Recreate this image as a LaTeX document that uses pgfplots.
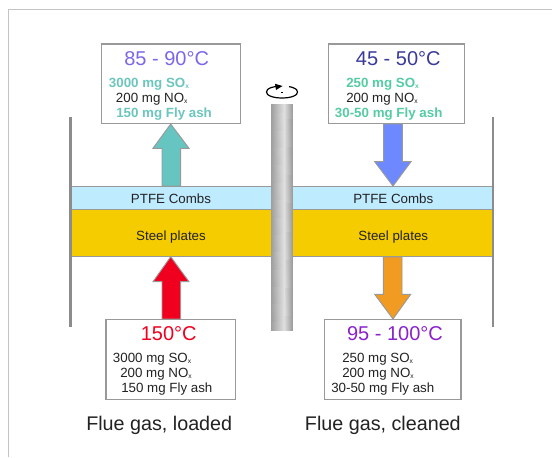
\documentclass[border=0pt]{standalone}
\usepackage{fontspec}
\setmainfont{Liberation Sans}
\usepackage{pgfplots}
\pgfplotsset{compat=1.18}

\definecolor{framegray}{HTML}{C4C4C4}
\definecolor{edgegray}{HTML}{999999}
\definecolor{wallgray}{HTML}{8C8C8C}
\definecolor{ptfe}{HTML}{BFEBFF}
\definecolor{steel}{HTML}{F5CC00}
\definecolor{tealarrow}{HTML}{66C5C0}
\definecolor{bluearrow}{HTML}{6E88FF}
\definecolor{redarrow}{HTML}{F0001E}
\definecolor{orangearrow}{HTML}{F29B22}
\definecolor{tealtext}{HTML}{6CC6BE}
\definecolor{greentext}{HTML}{55CCA2}
\definecolor{violettitle}{HTML}{7B68E8}
\definecolor{navytitle}{HTML}{3A3A9C}
\definecolor{purpletitle}{HTML}{8A22CC}
\definecolor{darktext}{HTML}{222222}

\newcommand{\sub}{\raisebox{-1.2pt}{\fontsize{5}{5}\selectfont x}}
\newcommand{\smalltxt}{\fontsize{10}{12}\selectfont}

\tikzset{
    boxtitle/.style={font=\fontsize{15}{18}\selectfont, anchor=base},
    gasline/.style={font=\smalltxt, anchor=base west, text=darktext, inner sep=0pt},
    gasbold/.style={font=\smalltxt\bfseries, anchor=base west, inner sep=0pt},
    bandlabel/.style={font=\smalltxt, anchor=base, text=darktext},
    caption/.style={font=\fontsize{14.8}{18}\selectfont, anchor=base west, inner sep=0pt, text=darktext},
    boxstyle/.style={draw=edgegray, fill=white, line width=0.8pt},
    arrowstyle/.style={draw=edgegray, line width=0.7pt, line join=miter},
}

\begin{document}
\begin{tikzpicture}
\begin{axis}[
    scale only axis,
    width=414pt,
    height=342.75pt,
    xmin=0, xmax=552,
    ymin=0, ymax=457,
    y dir=reverse,
    hide axis,
    colormap={shaftgray}{rgb255=(158,158,158) rgb255=(224,224,224)},
    point meta min=0, point meta max=1,
]
% page frame, open to the right and bottom
\addplot[fill=white, draw=none] coordinates {(0,0) (552,0) (552,457) (0,457)} --cycle;
\addplot[draw=framegray, line width=1.1pt] coordinates {(8.5,457) (8.5,9.5) (552,9.5)};

% bands
\addplot[fill=ptfe, draw=edgegray, line width=0.8pt] coordinates {(71,186.3) (493,186.3) (493,209.7) (71,209.7)} --cycle;
\addplot[fill=steel, draw=edgegray, line width=0.8pt] coordinates {(71,209.7) (493,209.7) (493,256.7) (71,256.7)} --cycle;

% housing walls
\addplot[draw=wallgray, line width=1.8pt] coordinates {(70.5,116.7) (70.5,326.7)};
\addplot[draw=wallgray, line width=1.8pt] coordinates {(493,116.7) (493,326.7)};

% shaft
\addplot[surf, shader=interp, mesh/cols=3, point meta=explicit] coordinates {
    (271.3,103.7) [0] (284,103.7) [1] (292.3,103.7) [0]
    (271.3,330) [0] (284,330) [1] (292.3,330) [0]
};

% rotation sign
\addplot[draw=black, line width=0.9pt, smooth] coordinates {
    (276,86.5) (271,87.6) (267.5,89.6) (266.5,92) (267.5,94.4) (271,96.4) (276,97.6) (282,98)
    (288,97.6) (293,96.4) (296.5,94.4) (297.5,92) (296.5,89.6) (293,87.6) (289,86.6)
};
\addplot[fill=black, draw=none] coordinates {(275,83.8) (282.5,86) (276,90)} --cycle;
\addplot[fill=black, draw=none] coordinates {(281,91.6) (282.5,91.6) (282.5,93.1) (281,93.1)} --cycle;

% arrows
\addplot[fill=tealarrow, arrowstyle] coordinates {
    (170.7,124) (189,148.3) (180.7,148.3) (180.7,186) (162,186) (162,148.3) (153,148.3)} --cycle;
\addplot[fill=bluearrow, arrowstyle] coordinates {
    (393,186) (411,161.7) (402.3,161.7) (402.3,124) (383.7,124) (383.7,161.7) (374.7,161.7)} --cycle;
\addplot[fill=redarrow, arrowstyle] coordinates {
    (170.7,256.7) (189,281.7) (180.7,281.7) (180.7,319) (162,319) (162,281.7) (153,281.7)} --cycle;
\addplot[fill=orangearrow, arrowstyle] coordinates {
    (393,319) (410.7,294.3) (402,294.3) (402,257) (383.3,257) (383.3,294.3) (374.7,294.3)} --cycle;

% gas boxes
\addplot[boxstyle] coordinates {(101.3,44) (240.3,44) (240.3,123.7) (101.3,123.7)} --cycle;
\addplot[boxstyle] coordinates {(328.3,44) (464.3,44) (464.3,123.7) (328.3,123.7)} --cycle;
\addplot[boxstyle] coordinates {(106,319.3) (235.7,319.3) (235.7,399.3) (106,399.3)} --cycle;
\addplot[boxstyle] coordinates {(324.7,319.3) (461,319.3) (461,399.3) (324.7,399.3)} --cycle;

% top left box
\node[boxtitle, text=violettitle] at (axis cs:166.7,65) {85 - 90°C};
\node[gasbold, text=tealtext] at (axis cs:108.7,87.3) {3000 mg SO\sub};
\node[gasline] at (axis cs:115.7,102.3) {200 mg NO\sub};
\node[gasbold, text=tealtext] at (axis cs:116,117) {150 mg Fly ash};

% top right box
\node[boxtitle, text=navytitle] at (axis cs:398.3,65) {45 - 50°C};
\node[gasbold, text=greentext] at (axis cs:346,87.3) {250 mg SO\sub};
\node[gasline] at (axis cs:346,102.3) {200 mg NO\sub};
\node[gasbold, text=greentext] at (axis cs:334.7,117) {30-50 mg Fly ash};

% bottom left box
\node[boxtitle, text=redarrow] at (axis cs:168.7,340) {150°C};
\node[gasline] at (axis cs:112.7,362) {3000 mg SO\sub};
\node[gasline] at (axis cs:120,377.3) {200 mg NO\sub};
\node[gasline] at (axis cs:121,392) {150 mg Fly ash};

% bottom right box
\node[boxtitle, text=purpletitle] at (axis cs:395,340) {95 - 100°C};
\node[gasline] at (axis cs:342,362) {250 mg SO\sub};
\node[gasline] at (axis cs:342,377.3) {200 mg NO\sub};
\node[gasline] at (axis cs:331,392) {30-50 mg Fly ash};

% band labels
\node[bandlabel] at (axis cs:171,203) {PTFE Combs};
\node[bandlabel] at (axis cs:393.3,203) {PTFE Combs};
\node[bandlabel] at (axis cs:171,240) {Steel plates};
\node[bandlabel] at (axis cs:393.3,240) {Steel plates};

% captions
\node[caption] at (axis cs:86,430.7) {Flue gas, loaded};
\node[caption] at (axis cs:304.7,430.7) {Flue gas, cleaned};
\end{axis}
\end{tikzpicture}
\end{document}
